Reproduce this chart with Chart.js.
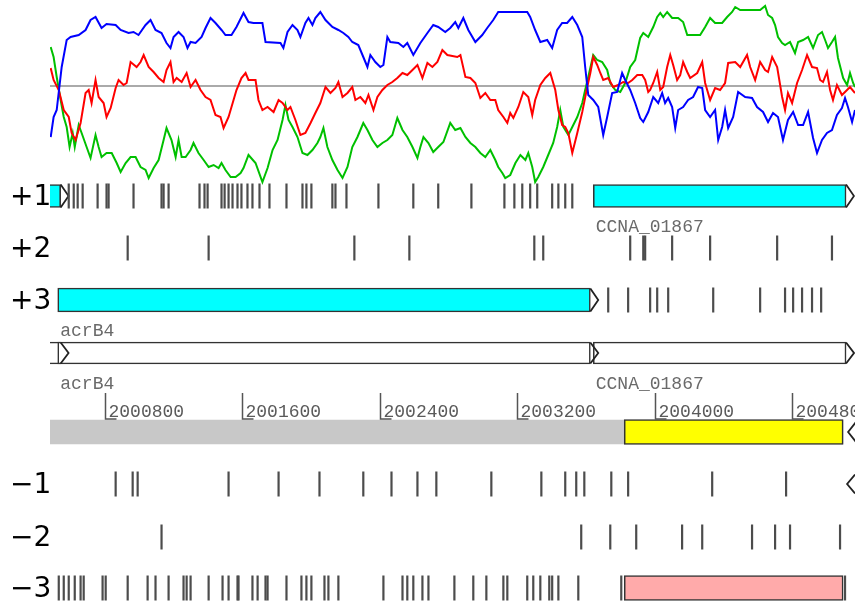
<!DOCTYPE html>
<html><head><meta charset="utf-8">
<script src="https://cdn.jsdelivr.net/npm/chart.js@4.4.0/dist/chart.umd.min.js"></script>
<style>html,body{margin:0;padding:0;background:#fff;}#wrap{width:855px;height:605px;overflow:hidden;}canvas{display:block;}</style>
</head><body><div id="wrap"><canvas id="c" width="855" height="605"></canvas></div>
<script>
// ---------- data ----------
const REGION_START = 2000482, REGION_END = 2005166;
const RULER_TICKS = [2000800, 2001600, 2002400, 2003200, 2004000, 2004800];

// GC frame plot (deviation from mean), three frames
const frame1Pos = [2000486,2000503,2000521,2000550,2000579,2000602,2000649,2000689,2000718,2000747,
2000782,2000811,2000864,2000893,2000939,2000968,2000997,2001038,2001067,2001096,
2001131,2001160,2001183,2001201,2001230,2001259,2001282,2001300,2001329,2001364,
2001387,2001416,2001445,2001480,2001503,2001538,2001567,2001608,2001637,2001666,
2001718,2001736,2001823,2001840,2001864,2001893,2001922,2001939,2001968,2001986,
2002009,2002026,2002055,2002085,2002125,2002160,2002189,2002218,2002241,2002276,
2002305,2002329,2002346,2002375,2002404,2002422,2002445,2002462,2002509,2002538,
2002561,2002596,2002637,2002678,2002712,2002741,2002782,2002811,2002840,2002858,
2002887,2002916,2002957,2002997,2003026,2003061,2003090,2003259,2003276,2003305,
2003335,2003375,2003404,2003433,2003462,2003491,2003521,2003550,2003579,2003596,
2003614,2003643,2003672,2003701,2003724,2003753,2003782,2003811,2003829,2003858,
2003887,2003916,2003934,2003963,2003992,2004021,2004044,2004061,2004079,2004102,
2004120,2004137,2004166,2004195,2004224,2004253,2004277,2004294,2004323,2004352,
2004370,2004393,2004410,2004428,2004457,2004486,2004527,2004567,2004596,2004631,
2004660,2004689,2004718,2004747,2004776,2004806,2004835,2004864,2004893,2004922,
2004945,2004974,2005003,2005032,2005061,2005090,2005108,2005125,2005149,2005166];
const frame1Val = [-51,-31,-24,19,46,49,51,56,66,69,
58,62,61,56,53,54,51,61,66,56,
53,43,38,49,54,49,38,44,43,49,
58,68,63,56,51,51,59,73,64,63,
63,44,43,38,54,61,56,49,63,68,
61,68,74,66,59,56,53,49,44,41,
29,19,31,24,19,21,49,44,43,39,
43,31,43,53,61,59,54,58,64,58,
68,56,44,51,58,66,74,74,69,56,
44,46,38,56,63,63,69,61,49,19,
-9,-14,-21,-49,-31,-7,-6,13,6,-4,
-17,-32,-36,-26,-11,-17,-7,-17,-12,-21,
-42,-24,-21,-14,-11,-1,-2,-24,-31,-24,
-54,-41,-24,-42,-31,-6,-11,-12,-21,-26,
-36,-27,-31,-54,-34,-26,-39,-39,-26,-52,
-67,-54,-47,-44,-29,-22,-12,-21,-36,-24];

const frame2Pos = [2000486,2000503,2000533,2000562,2000591,2000608,2000631,2000660,2000689,2000707,
2000724,2000747,2000765,2000794,2000811,2000835,2000864,2000881,2000910,2000928,
2000951,2000986,2001009,2001027,2001056,2001085,2001114,2001143,2001160,2001183,
2001201,2001219,2001248,2001277,2001300,2001329,2001358,2001387,2001416,2001445,
2001474,2001492,2001521,2001550,2001567,2001596,2001620,2001637,2001678,2001695,
2001718,2001748,2001783,2001812,2001835,2001864,2001881,2001910,2001939,2001968,
2001998,2002026,2002055,2002085,2002114,2002143,2002160,2002184,2002213,2002241,
2002259,2002288,2002317,2002335,2002364,2002387,2002416,2002445,2002474,2002503,
2002533,2002561,2002591,2002620,2002649,2002678,2002707,2002736,2002765,2002794,
2002852,2002870,2002899,2002928,2002957,2002986,2003015,2003044,2003073,2003090,
2003120,2003143,2003160,2003178,2003207,2003236,2003265,2003288,2003305,2003335,
2003364,2003393,2003422,2003440,2003462,2003480,2003498,2003521,2003550,2003579,
2003608,2003626,2003643,2003666,2003684,2003701,2003730,2003759,2003788,2003817,
2003846,2003870,2003899,2003928,2003945,2003963,2003974,2003992,2004015,2004033,
2004050,2004073,2004091,2004108,2004131,2004149,2004166,2004190,2004207,2004248,
2004277,2004294,2004323,2004352,2004381,2004410,2004428,2004469,2004498,2004538,
2004556,2004585,2004614,2004643,2004660,2004684,2004713,2004742,2004759,2004776,
2004800,2004829,2004858,2004887,2004916,2004945,2004963,2004980,2005003,2005021,
2005038,2005061,2005090,2005108,2005137,2005166];
const frame2Val = [18,6,-4,-24,-31,-47,-54,-37,-7,-4,
-17,6,-11,-17,-31,-22,-2,6,1,3,
24,19,24,31,19,14,8,4,16,24,
4,8,4,13,-1,6,-4,-11,-14,-29,
-31,-42,-31,-14,-4,8,13,6,6,-14,
-24,-21,-26,-14,-17,-24,-21,-34,-49,-47,
-37,-27,-17,-1,-7,-2,4,-11,-7,-1,
-14,-11,-17,-9,-24,-11,-4,1,4,8,
13,11,16,21,8,23,19,24,36,31,
29,31,9,8,3,-12,-7,-14,-14,-24,
-31,-37,-27,-32,-21,-6,-11,-29,-14,1,
8,13,-4,-24,-39,-41,-47,-67,-47,-26,
-1,13,29,21,13,6,8,-1,1,4,
3,6,11,11,6,-6,-4,3,14,-4,
-1,19,31,21,6,11,24,14,8,13,
24,3,-14,-2,-4,3,23,24,19,31,
19,6,24,16,14,29,19,-11,-24,-7,
-17,3,16,31,19,18,6,4,14,-4,
-14,1,-9,-6,-1,-7];

const frame3Pos = [2000486,2000503,2000521,2000544,2000562,2000579,2000596,2000614,2000626,2000649,
2000666,2000695,2000718,2000747,2000765,2000782,2000811,2000841,2000870,2000893,
2000922,2000951,2000980,2001009,2001038,2001056,2001085,2001114,2001143,2001160,
2001189,2001213,2001230,2001248,2001271,2001300,2001317,2001346,2001376,2001405,
2001434,2001463,2001480,2001503,2001533,2001562,2001591,2001608,2001637,2001678,
2001718,2001748,2001777,2001806,2001835,2001852,2001870,2001893,2001922,2001951,
2001980,2002009,2002038,2002055,2002073,2002096,2002125,2002155,2002184,2002213,
2002241,2002271,2002305,2002329,2002358,2002387,2002416,2002445,2002474,2002503,
2002533,2002561,2002591,2002620,2002637,2002655,2002684,2002712,2002741,2002771,
2002811,2002840,2002870,2002899,2002928,2002957,2002986,2003015,2003044,2003073,
2003090,2003114,2003131,2003160,2003190,2003219,2003248,2003265,2003288,2003305,
2003323,2003352,2003381,2003410,2003433,2003451,2003469,2003498,2003521,2003550,
2003579,2003596,2003614,2003643,2003666,2003695,2003724,2003742,2003771,2003800,
2003829,2003858,2003887,2003916,2003934,2003963,2003992,2004015,2004033,2004050,
2004073,2004102,2004137,2004166,2004190,2004265,2004294,2004323,2004352,2004393,
2004422,2004451,2004469,2004498,2004614,2004643,2004660,2004684,2004701,2004718,
2004742,2004759,2004788,2004817,2004835,2004864,2004893,2004922,2004951,2004974,
2004992,2005009,2005032,2005050,2005067,2005097,2005120,2005137,2005155,2005166];
const frame3Val = [39,29,9,-14,-31,-41,-61,-47,-61,-39,
-47,-61,-72,-49,-61,-71,-67,-67,-77,-86,
-77,-71,-71,-81,-84,-92,-82,-74,-54,-42,
-54,-71,-54,-71,-71,-64,-57,-67,-74,-81,
-79,-82,-77,-84,-91,-91,-87,-82,-69,-77,
-96,-82,-64,-54,-34,-19,-34,-41,-51,-67,
-69,-64,-57,-51,-42,-61,-74,-84,-92,-81,
-61,-51,-37,-44,-54,-61,-57,-54,-49,-32,
-44,-51,-61,-72,-61,-51,-57,-66,-61,-56,
-37,-44,-42,-51,-57,-61,-67,-71,-64,-74,
-81,-87,-92,-89,-77,-69,-74,-67,-81,-96,
-91,-81,-69,-57,-41,-24,-41,-49,-41,-31,
-17,-4,9,31,26,24,16,3,-4,-6,
3,19,26,48,53,49,59,69,73,69,
74,68,68,64,51,51,59,68,63,63,
69,74,79,76,76,80,71,68,61,49,
43,41,44,33,44,46,49,38,51,54,
46,38,44,49,28,8,1,13,3,-1];
const PLOT_MEAN = 0;

// stop codons per reading frame
const stopsPlus1 = [2000591,2000620,2000643,2000672,2000759,2000811,2000823,2000968,2001131,2001143,2001172,2001352,2001381,2001399,2001480,2001498,2001521,2001544,2001573,2001596,2001631,2001660,2001701,2001759,2001858,2001951,2001974,2002003,2002125,2002143,2002207,2002393,2002596,2002741,2002934,2003126,2003184,2003230,2003276,2003317,2003404,2003440,2003480,2003521];
const stopsPlus2 = [2000934,2001405,2002253,2002573,2003300,2003352,2003858,2003934,2003945,2004102,2004323,2004713,2005032];
const stopsPlus3 = [2003730,2003846,2003974,2004015,2004079,2004341,2004614,2004759,2004806,2004858,2004916,2004969];
const stopsMinus1 = [2000864,2000963,2000992,2001521,2001812,2002050,2002305,2002469,2002620,2002730,2003050,2003341,2003480,2003544,2003591,2003748,2003846,2004335,2004765];
const stopsMinus2 = [2001131,2003573,2003742,2003893,2004160,2004277,2004567,2004701,2004788,2005079];
const stopsMinus3 = [2000533,2000562,2000591,2000626,2000660,2000678,2000788,2000806,2000934,2001050,2001096,2001172,2001259,2001277,2001300,2001405,2001486,2001521,2001573,2001579,2001660,2001690,2001736,2001748,2001858,2001945,2001974,2002003,2002079,2002102,2002160,2002422,2002533,2002561,2002596,2002649,2002684,2002835,2002945,2003021,2003120,2003143,2003259,2003294,2003335,2003387,2003404,2003440,2003556,2003806,2005108];

// features: [start, end]
const genesPlus1 = [[2000300, 2000544], [2003643, 2005114]];
const genesPlus3 = [[2000527, 2003626]];
const genesForward = [[2000300, 2000544], [2000527, 2003626], [2003643, 2005114]];
const genesReverse = [[2003823, 2005097]];
const genesMinus3 = [[2003823, 2005097]];
const reverseStartsBeyond = { ruler: 2005172, minus1: 2005166 };
const geneLabels = [
  { text: 'CCNA_01867', at: 2003643, track: 'plus1' },
  { text: 'acrB4', at: 2000527, track: 'plus3' },
  { text: 'acrB4', at: 2000527, track: 'fwd' },
  { text: 'CCNA_01867', at: 2003643, track: 'fwd' }
];
const frameLabels = { plus1: '+1', plus2: '+2', plus3: '+3', minus1: '\u22121', minus2: '\u22122', minus3: '\u22123' };

// ---------- layout / style ----------
const TRACK_Y = { plus1: 196, plus2: 248, plus3: 300, fwd: 353, ruler: 432, minus1: 484, minus2: 537, minus3: 588 };
const GENE_H = 23, RULER_H = 24, ARROW_BP = 46, STOP_R = 12.5;
const LABEL_DY = 36;
const STROKE = '#333333';

const datasets = [];
const line = (pos, val, color, order) => ({
  type: 'line', xAxisID: 'x', yAxisID: 'yPlot', order,
  data: pos.map((x, i) => ({ x, y: val[i] })),
  borderColor: color, borderWidth: 2, pointRadius: 0, tension: 0, fill: false
});
datasets.push(line(frame1Pos, frame1Val, '#0000ff', 1));
datasets.push(line(frame2Pos, frame2Val, '#ff0000', 1));
datasets.push(line(frame3Pos, frame3Val, '#00c000', 1));
datasets.push({ type: 'line', xAxisID: 'x', yAxisID: 'yPlot', order: 6,
  data: [{ x: REGION_START, y: PLOT_MEAN }, { x: REGION_END, y: PLOT_MEAN }],
  borderColor: '#aaaaaa', borderWidth: 2, pointRadius: 0 });

const stopSets = { plus1: stopsPlus1, plus2: stopsPlus2, plus3: stopsPlus3, minus1: stopsMinus1, minus2: stopsMinus2, minus3: stopsMinus3 };
Object.keys(stopSets).forEach(k => {
  datasets.push({ type: 'scatter', xAxisID: 'x', yAxisID: 'y', order: 2,
    data: stopSets[k].map(x => ({ x, y: TRACK_Y[k] })),
    pointStyle: 'line', pointRadius: STOP_R, pointHoverRadius: STOP_R, pointRotation: 90,
    pointBorderColor: '#4c4c4c', pointBorderWidth: 2.2, showLine: false });
});

const bars = (list, track, fill, h, border, order) => ({
  type: 'bar', indexAxis: 'y', xAxisID: 'x', yAxisID: 'y', grouped: false, order,
  data: list.map(g => ({ y: TRACK_Y[track], x: [g[0], g[1]] })),
  backgroundColor: fill, borderColor: STROKE, borderWidth: border, borderSkipped: false,
  barThickness: h
});
datasets.push(bars([[REGION_START - 200, genesReverse[0][1]]], 'ruler', '#c8c8c8', RULER_H, 0, 9));
datasets.push(bars(genesPlus1, 'plus1', '#00ffff', GENE_H, 1.6, 5));
datasets.push(bars(genesPlus3, 'plus3', '#00ffff', GENE_H + 1, 1.6, 5));
datasets.push(bars(genesForward, 'fwd', '#ffffff', GENE_H - 1, 1.6, 5));
datasets.push(bars(genesReverse, 'ruler', '#ffff00', RULER_H + 1, 1.6, 5));
datasets.push(bars(genesMinus3, 'minus3', '#ffaaaa', RULER_H + 1, 1.6, 5));

const chevron = (xBase, xTip, track, h) => ({
  type: 'line', xAxisID: 'x', yAxisID: 'y', order: 3,
  data: [{ x: xBase, y: TRACK_Y[track] - h / 2 }, { x: xTip, y: TRACK_Y[track] }, { x: xBase, y: TRACK_Y[track] + h / 2 }],
  borderColor: '#222', borderWidth: 1.8, pointRadius: 0, tension: 0, fill: false
});
genesPlus1.forEach(g => datasets.push(chevron(g[1], g[1] + ARROW_BP, 'plus1', GENE_H)));
genesPlus3.forEach(g => datasets.push(chevron(g[1], g[1] + ARROW_BP, 'plus3', GENE_H)));
genesForward.forEach(g => datasets.push(chevron(g[1], g[1] + ARROW_BP, 'fwd', GENE_H - 2)));
datasets.push(chevron(reverseStartsBeyond.ruler, reverseStartsBeyond.ruler - ARROW_BP, 'ruler', RULER_H - 4));
datasets.push(chevron(reverseStartsBeyond.minus1, reverseStartsBeyond.minus1 - ARROW_BP, 'minus1', GENE_H - 4));

const annotate = {
  id: 'annotate',
  afterDatasetsDraw(chart) {
    const { ctx } = chart, xs = chart.scales.x, ys = chart.scales.y;
    ctx.save();
    ctx.font = '18px "Liberation Mono", "DejaVu Sans Mono", monospace';
    ctx.textAlign = 'left'; ctx.textBaseline = 'alphabetic';
    // ruler
    const yTop = ys.getPixelForValue(TRACK_Y.ruler - 39), yBot = ys.getPixelForValue(TRACK_Y.ruler - 13);
    ctx.strokeStyle = '#555'; ctx.lineWidth = 1.5; ctx.fillStyle = '#5a5a5a';
    RULER_TICKS.forEach(v => {
      const x = Math.round(xs.getPixelForValue(v)) + 0.5;
      ctx.beginPath(); ctx.moveTo(x, yTop); ctx.lineTo(x, yBot); ctx.lineTo(x + 11, yBot); ctx.stroke();
      ctx.fillText(String(v), x + 3, ys.getPixelForValue(TRACK_Y.ruler - 15));
    });
    // feature names
    ctx.fillStyle = '#6a6a6a';
    geneLabels.forEach(l => {
      ctx.fillText(l.text, xs.getPixelForValue(l.at) + 2.5, ys.getPixelForValue(TRACK_Y[l.track] + LABEL_DY));
    });
    ctx.restore();
  }
};

const labelByValue = {};
Object.keys(frameLabels).forEach(k => { labelByValue[TRACK_Y[k]] = frameLabels[k]; });

new Chart(document.getElementById('c'), {
  type: 'scatter',
  data: { datasets },
  plugins: [annotate],
  options: {
    responsive: false, animation: false, devicePixelRatio: 1,
    layout: { autoPadding: false, padding: { left: 10, right: 0, top: 0, bottom: 0 } },
    plugins: { legend: { display: false }, tooltip: { enabled: false } },
    events: [],
    scales: {
      x: { type: 'linear', min: REGION_START, max: REGION_END, display: false, offset: false, beginAtZero: false },
      yPlot: { type: 'linear', min: -519, max: 86, display: false, offset: false },
      y: {
        type: 'linear', position: 'left', min: 0, max: 605, reverse: true, offset: false,
        grid: { display: false, drawTicks: false, offset: false }, border: { display: false },
        ticks: { autoSkip: false, crossAlign: 'far', padding: 0, color: '#000', labelOffset: 2,
          font: { family: 'DejaVu Sans', size: 28 },
          callback: (v) => labelByValue[v] || '' },
        afterBuildTicks: (s) => { s.ticks = Object.keys(frameLabels).map(k => ({ value: TRACK_Y[k] })); },
        afterFit: (s) => { s.width = 40; s.paddingTop = 0; s.paddingBottom = 0; }
      }
    }
  }
});
</script></body></html>
